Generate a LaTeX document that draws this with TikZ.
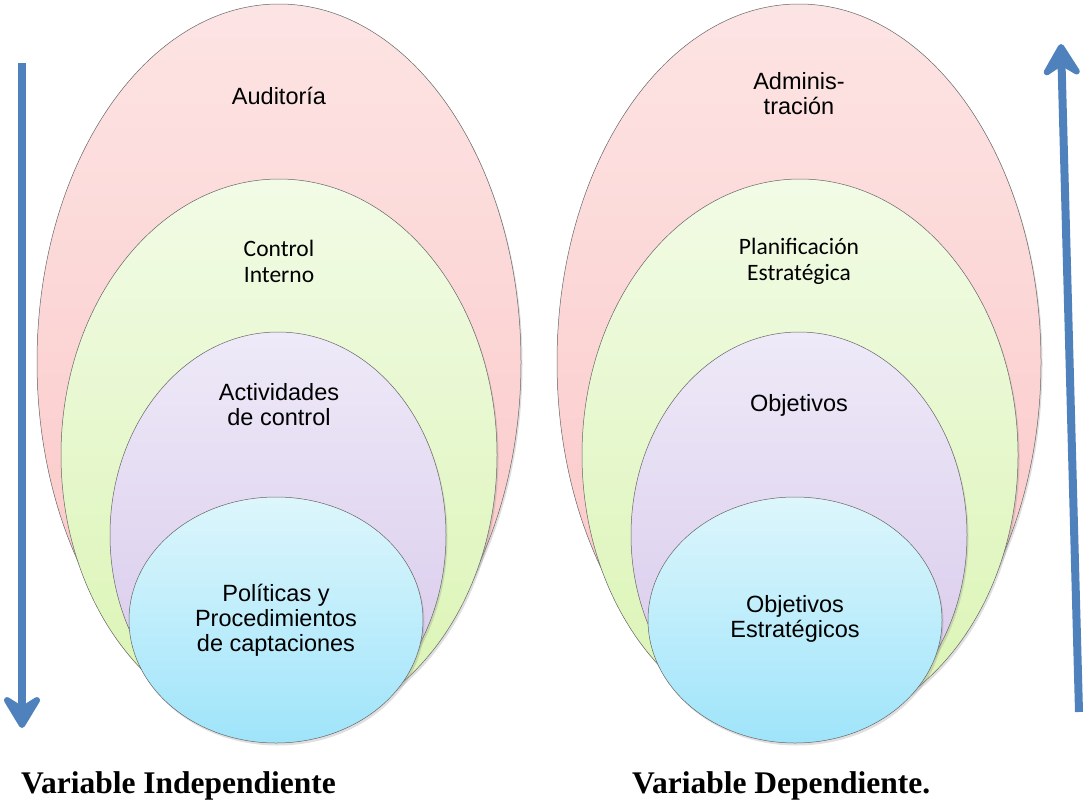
\documentclass[tikz,border=0pt]{standalone}
\usepackage{fontspec}
\setmainfont{Liberation Serif}
\newfontfamily\arialf{Liberation Sans}
\newfontfamily\calibrif{Carlito}
\usetikzlibrary{arrows.meta,shadows}

\definecolor{pinkA}{HTML}{FDE4E4}
\definecolor{pinkB}{HTML}{FBC4C4}
\definecolor{greenA}{HTML}{F2FBE6}
\definecolor{greenB}{HTML}{DAF4B2}
\definecolor{lilacA}{HTML}{EEEAF8}
\definecolor{lilacB}{HTML}{D6C6EA}
\definecolor{skyA}{HTML}{DDF6FC}
\definecolor{skyB}{HTML}{9FE4FA}
\definecolor{arrowblue}{HTML}{4F81BD}

\tikzset{
  ring/.style={draw=black!60,line width=0.5pt,
    drop shadow={opacity=0.25,shadow xshift=1.5pt,shadow yshift=-2.5pt}},
  lbl/.style={font=\arialf\fontsize{23.5}{25}\selectfont,align=center,inner sep=0pt},
  lblc/.style={font=\calibrif\fontsize{23.5}{26}\selectfont,align=center,inner sep=0pt},
  varname/.style={font=\bfseries\fontsize{31.5}{36}\selectfont,anchor=west,inner sep=0pt},
  bluearrow/.style={draw=arrowblue,line width=8pt,
    -{Stealth[length=40pt,width=48pt,inset=15pt,line join=round]}}
}

\begin{document}
\begin{tikzpicture}[x=1pt,y=-1pt]
  \useasboundingbox (0,0) rectangle (1084,806);
  % left set of ellipses
  \draw[ring,top color=pinkA,bottom color=pinkB] (279,362) ellipse [x radius=242pt,y radius=358pt];
  \draw[ring,top color=greenA,bottom color=greenB] (279,455) ellipse [x radius=218pt,y radius=276pt];
  \draw[ring,top color=lilacA,bottom color=lilacB] (278,535) ellipse [x radius=168pt,y radius=203pt];
  \draw[ring,top color=skyA,bottom color=skyB] (276,620) ellipse [x radius=147pt,y radius=123pt];
  % right set of ellipses
  \draw[ring,top color=pinkA,bottom color=pinkB] (799,362) ellipse [x radius=242pt,y radius=358pt];
  \draw[ring,top color=greenA,bottom color=greenB] (800,455) ellipse [x radius=218pt,y radius=276pt];
  \draw[ring,top color=lilacA,bottom color=lilacB] (799,535) ellipse [x radius=168pt,y radius=203pt];
  \draw[ring,top color=skyA,bottom color=skyB] (795,620) ellipse [x radius=147pt,y radius=123pt];

  \node[lbl] (audit) at (279,96) {Auditoría};
  \node[lblc] (ctrl) at (279,261) {Control\\Interno};
  \node[lbl] (activ) at (279,405) {Actividades\\de control};
  \node[lbl] (polit) at (276,620) {Políticas y\\Procedimientos\\de captaciones};

  \node[lbl] (admin) at (799,94) {Adminis-\\tración};
  \node[lblc] (plan) at (799,261) {Planificación\\Estratégica};
  \node[lbl] (obj) at (799,405) {Objetivos};
  \node[lbl] (objest) at (795,619) {Objetivos\\Estratégicos};

  \node[varname] (indep) at (21,786) {Variable Independiente};
  \node[varname] (dep) at (632,786) {Variable Dependiente.};

  \coordinate (ltop) at (22,63);
  \coordinate (lbot) at (22,728);
  \coordinate (rbot) at (1079,712);
  \coordinate (rtop) at (1061,44);
  \draw[bluearrow] (ltop) -- (lbot);
  \draw[bluearrow] (rbot) -- (rtop);
\end{tikzpicture}
\end{document}
